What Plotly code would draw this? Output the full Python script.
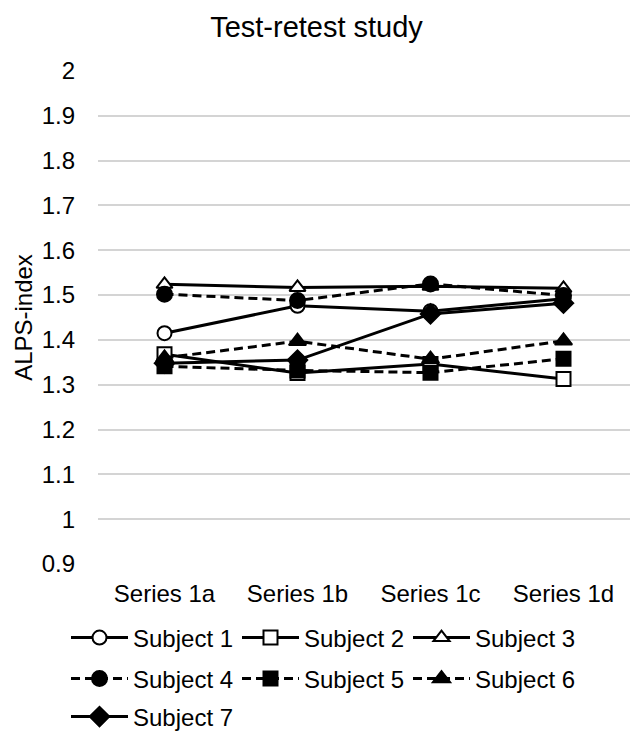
import plotly.graph_objects as go

# Measurement series (x categories)
series = ["Series 1a", "Series 1b", "Series 1c", "Series 1d"]

# ALPS-index per subject across the four series
subject_1 = [1.415, 1.476, 1.464, 1.492]
subject_2 = [1.368, 1.326, 1.346, 1.313]
subject_3 = [1.524, 1.517, 1.520, 1.515]
subject_4 = [1.502, 1.488, 1.525, 1.499]
subject_5 = [1.341, 1.332, 1.327, 1.358]
subject_6 = [1.360, 1.397, 1.357, 1.398]
subject_7 = [1.348, 1.355, 1.458, 1.482]

subject_names = ["Subject 1", "Subject 2", "Subject 3", "Subject 4",
                 "Subject 5", "Subject 6", "Subject 7"]
subject_values = [subject_1, subject_2, subject_3, subject_4,
                  subject_5, subject_6, subject_7]

# y-axis ticks
y_tick_vals = [0.9, 1.0, 1.1, 1.2, 1.3, 1.4, 1.5, 1.6, 1.7, 1.8, 1.9, 2.0]
y_tick_text = ["0.9", "1", "1.1", "1.2", "1.3", "1.4", "1.5",
               "1.6", "1.7", "1.8", "1.9", "2"]

FONT = "Liberation Sans, Arial, sans-serif"
W, H = 633, 732

# marker style / line dash / legend row for each subject
styles = [
    dict(symbol="circle", fill="white", dash="solid", legend="legend", size=14),
    dict(symbol="square", fill="white", dash="solid", legend="legend", size=14),
    dict(symbol="triangle-up", fill="white", dash="solid", legend="legend", size=14),
    dict(symbol="circle", fill="black", dash="9px,5px", legend="legend2", size=15),
    dict(symbol="square", fill="black", dash="9px,5px", legend="legend2", size=14),
    dict(symbol="triangle-up", fill="black", dash="9px,5px", legend="legend2", size=15),
    dict(symbol="diamond", fill="black", dash="solid", legend="legend3", size=15),
]

fig = go.Figure()
for name, vals, st in zip(subject_names, subject_values, styles):
    fig.add_trace(go.Scatter(
        x=series, y=vals, name=name, mode="lines+markers",
        line=dict(color="black", width=3, dash=st["dash"]),
        marker=dict(symbol=st["symbol"], size=st["size"], color=st["fill"],
                    line=dict(color="black", width=2)),
        legend=st["legend"],
    ))

legend_common = dict(
    orientation="h", xanchor="left", yanchor="middle",
    xref="container", yref="container",
    x=66 / W, bgcolor="rgba(0,0,0,0)",
    font=dict(family=FONT, size=24, color="black"),
    itemwidth=57, entrywidth=99, entrywidthmode="pixels",
    itemclick=False,
)

fig.update_layout(
    width=W, height=H,
    margin=dict(l=98, r=3, t=71, b=168, autoexpand=False),
    paper_bgcolor="white", plot_bgcolor="white",
    font=dict(family=FONT, size=24, color="black"),
    title=dict(text="Test-retest study", x=0.5, xref="container", xanchor="center",
               y=1 - 27 / H, yref="container", yanchor="middle",
               font=dict(family=FONT, size=29, color="black")),
    xaxis=dict(type="category", range=[-0.5, 3.5], showgrid=False,
               showline=False, zeroline=False, ticks="",
               ticklabelstandoff=13,
               tickfont=dict(family=FONT, size=24, color="black")),
    yaxis=dict(range=[0.9, 2.0], tickvals=y_tick_vals, ticktext=y_tick_text,
               showgrid=True, gridcolor="#d4d4d4", gridwidth=1.5,
               zeroline=False, showline=False, ticks="",
               ticklabelstandoff=22,
               tickfont=dict(family=FONT, size=24, color="black"),
               title=dict(text="ALPS-index", standoff=2,
                          font=dict(family=FONT, size=24, color="black"))),
    legend=dict(y=1 - 638 / H, **legend_common),
    legend2=dict(y=1 - 679 / H, **legend_common),
    legend3=dict(y=1 - 717 / H, **legend_common),
    showlegend=True,
)

fig.write_html("out.html")
